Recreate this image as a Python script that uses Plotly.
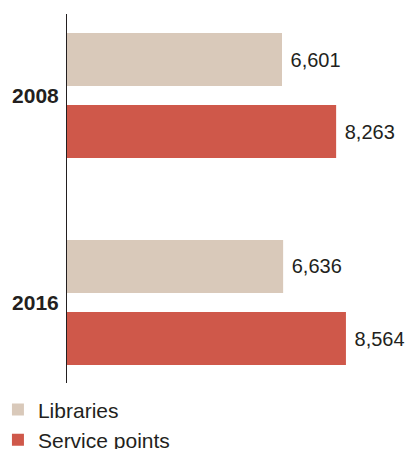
import plotly.graph_objects as go

years = ["2008", "2016"]
libraries = [6601, 6636]
service_points = [8263, 8564]
series_names = ["Libraries", "Service points"]
colors = ["#D9C9BA", "#CF584A"]

fig = go.Figure()
for name, vals, col in zip(series_names, [libraries, service_points], colors):
    fig.add_trace(go.Bar(
        y=years, x=vals, name=name, orientation="h", legendgroup=name,
        marker=dict(color=col, line=dict(width=0)),
        text=vals, texttemplate="\u00a0%{x:,}", textposition="outside",
        textfont=dict(size=20, color="#231f20"),
        cliponaxis=False,
    ))

fig.update_layout(
    width=409, height=449,
    margin=dict(l=67, r=10, t=14, b=66, autoexpand=False),
    paper_bgcolor="white", plot_bgcolor="white",
    barmode="group", bargap=0.304, bargroupgap=0.264,
    font=dict(family="Liberation Sans, Arial, sans-serif", color="#231f20"),
    showlegend=True,
    legend=dict(
        orientation="v", traceorder="normal", tracegroupgap=6,
        x=-0.208, xanchor="left", y=-0.017, yanchor="top",
        font=dict(size=21, color="#231f20"),
        bgcolor="rgba(0,0,0,0)", itemclick=False,
    ),
    xaxis=dict(range=[0, 10193], visible=False, showgrid=False, zeroline=False),
    yaxis=dict(
        type="category", range=[1.389, -0.394], automargin=False,
        showline=True, linecolor="#231f20", linewidth=1,
        showgrid=False, zeroline=False, ticks="",
        ticklabelstandoff=3,
        tickfont=dict(size=21, family="Liberation Sans, Arial, sans-serif", color="#231f20", weight="bold"),
    ),
)

fig.write_html(
    "out.html",
    config={"displayModeBar": False},
    post_script="document.body.style.margin='0px';document.body.style.overflow='hidden';",
)
